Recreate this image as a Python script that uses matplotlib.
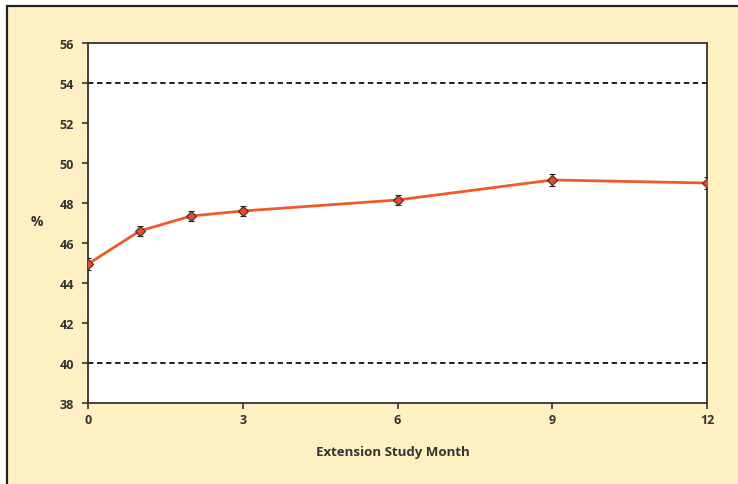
import matplotlib
matplotlib.use("Agg")
import matplotlib.pyplot as plt
from matplotlib.patches import Rectangle

months = [0, 1, 2, 3, 6, 9, 12]
values = [44.95, 46.6, 47.35, 47.6, 48.15, 49.15, 49.0]
errors = [0.28, 0.25, 0.25, 0.25, 0.25, 0.3, 0.3]
ref_lines = [40, 54]
xticks = [0, 3, 6, 9, 12]
yticks = [38, 40, 42, 44, 46, 48, 50, 52, 54, 56]

W, H = 738, 485
fig = plt.figure(figsize=(W/100, H/100), dpi=100)
bg = '#FEF0C2'
fig.patch.set_facecolor('white')
fig.patches.append(Rectangle((7/W, -0.1), 1.2, 1 - 7/H + 0.1, transform=fig.transFigure,
                             facecolor=bg, edgecolor='#222222', linewidth=1.6, zorder=-10))

ax = fig.add_axes([88/W, 1 - 404/H, (707-88)/W, (404-44)/H])
ax.set_facecolor('white')
txt = '#333333'
font = 'Open Sans'

for r in ref_lines:
    ax.axhline(r, color='#111111', linestyle=(0, (3, 2)), linewidth=1.3, zorder=1)

ax.plot(months, values, color='#F05A28', linewidth=2, zorder=2)
ax.errorbar(months, values, yerr=errors, fmt='D', color='#E84A2A', markersize=5.5,
            markeredgecolor='#333333', markeredgewidth=0.8, ecolor='#222222',
            elinewidth=1, capsize=2.5, capthick=1, zorder=3)

ax.set_xlim(0, 12)
ax.set_ylim(38, 56)
ax.set_xticks(xticks)
ax.set_yticks(yticks)
for s in ax.spines.values():
    s.set_color('#333333')
    s.set_linewidth(1.3)
ax.tick_params(direction='out', length=4, width=1.2, color='#333333', labelcolor=txt, labelsize=9)
for lab in ax.get_xticklabels() + ax.get_yticklabels():
    lab.set_fontfamily(font)
    lab.set_fontweight('bold')
ax.tick_params(axis='x', pad=3)
ax.tick_params(axis='y', pad=6)

fig.text(37/W, 1 - 222/H, '%', ha='center', va='center', fontsize=10, fontweight='bold',
         color=txt, family=font)
fig.text(393/W, 1 - 453/H, 'Extension Study Month', ha='center', va='center', fontsize=9.5,
         fontweight='bold', color=txt, family=font)

fig.savefig('out.png', dpi=100, facecolor=fig.get_facecolor())
